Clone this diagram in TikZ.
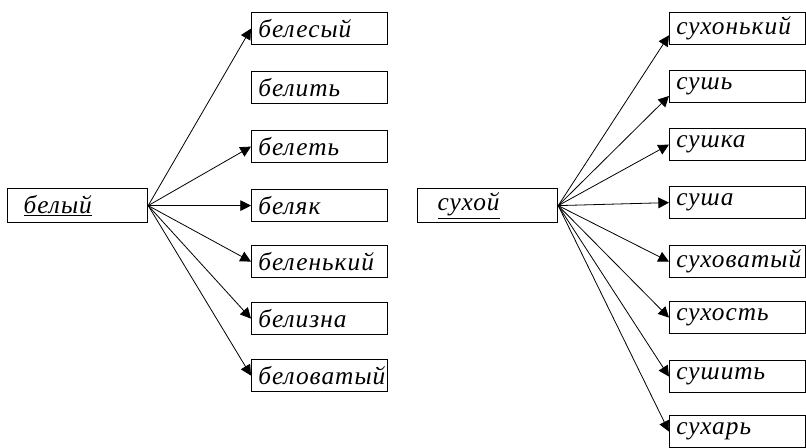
\documentclass[tikz,border=0pt]{standalone}
\usepackage{fontspec}
\newfontfamily\wordfont[LetterSpace=4]{Liberation Serif Italic}
\usetikzlibrary{arrows.meta}
\tikzset{
  rootword/.style={draw, line width=0.9pt, anchor=north west, inner xsep=12pt, inner ysep=0pt,
    text width=81pt, align=left, minimum height=25.5pt, font=\fontsize{19}{21}\wordfont},
  derived/.style={draw, line width=0.9pt, anchor=north west, inner xsep=5pt, inner ysep=0pt,
    text width=92pt, align=left, minimum height=24pt, font=\fontsize{19}{21}\wordfont},
  link/.style={line width=0.6pt, -{Triangle[length=8pt,width=8pt]}}
}

\begin{document}
\begin{tikzpicture}[x=0.75pt, y=-0.75pt]
\useasboundingbox (0,0) rectangle (806,447);

\node[rootword] (bel) at (7,188) {\underline{белый}};
\node[derived] (bel1) at (251,12) {белесый};
\node[derived] (bel2) at (251,71) {белить};
\node[derived] (bel3) at (251,130) {белеть};
\node[derived] (bel4) at (251,189) {беляк};
\node[derived] (bel5) at (251,245) {беленький};
\node[derived] (bel6) at (251,302) {белизна};
\node[derived] (bel7) at (251,359) {беловатый};

\draw[link] (bel.east) -- (bel1.west);
\draw[link] (bel.east) -- (bel3.west);
\draw[link] (bel.east) -- (bel4.west);
\draw[link] (bel.east) -- (bel5.west);
\draw[link] (bel.east) -- (bel6.west);
\draw[link] (bel.east) -- (bel7.west);

\node[rootword, inner xsep=15pt, text width=75pt] (suh) at (417,188) {\underline{сухой}};
\node[derived] (suh1) at (669,12) {сухонький};
\node[derived] (suh2) at (669,70) {сушь};
\node[derived] (suh3) at (669,128) {сушка};
\node[derived] (suh4) at (669,186) {суша};
\node[derived] (suh5) at (669,245) {суховатый};
\node[derived] (suh6) at (669,301) {сухость};
\node[derived] (suh7) at (669,360) {сушить};
\node[derived] (suh8) at (669,415) {сухарь};

\draw[link] (suh.east) -- ([yshift=-5pt]suh1.west);
\draw[link] (suh.east) -- ([yshift=-7pt]suh2.west);
\draw[link] (suh.east) -- (suh3.west);
\draw[link] (suh.east) -- (suh4.west);
\draw[link] (suh.east) -- (suh5.west);
\draw[link] (suh.east) -- (suh6.west);
\draw[link] (suh.east) -- (suh7.west);
\draw[link] (suh.east) -- (suh8.west);

\end{tikzpicture}
\end{document}
